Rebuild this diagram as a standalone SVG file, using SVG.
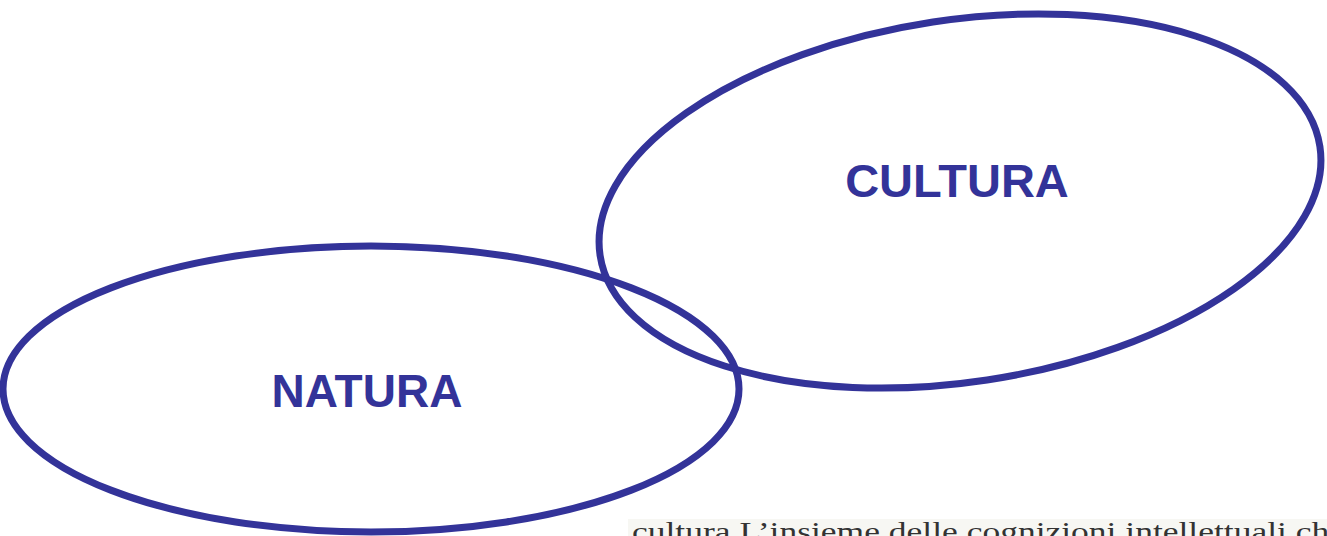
<svg xmlns="http://www.w3.org/2000/svg" width="1327" height="536" viewBox="0 0 1327 536">
<style>
.ell{fill:none;stroke:#333399;stroke-width:7}
.lbl{font-family:"Liberation Sans",Arial,sans-serif;font-weight:bold;font-size:46px;fill:#333399;text-anchor:middle}
.def{font-family:"Liberation Serif","Times New Roman",serif;font-size:28px;fill:#333333}
</style>
<rect x="0" y="0" width="1327" height="536" fill="#ffffff"/>
<g id="natura">
<ellipse class="ell" cx="371" cy="389" rx="368" ry="143"/>
<text class="lbl" x="367" y="407">NATURA</text>
</g>
<g id="cultura">
<ellipse class="ell" cx="960" cy="201" rx="364" ry="181" transform="rotate(-8.6 960 201)"/>
<text class="lbl" x="957" y="197" style="font-size:47px">CULTURA</text>
</g>
<g id="connectors"></g>
<g id="definition">
<rect x="628" y="519" width="699" height="17" fill="#f7f7f3"/>
<text class="def" x="632" y="541" textLength="713" lengthAdjust="spacingAndGlyphs">cultura L’insieme delle cognizioni intellettuali che</text>
</g>
</svg>
